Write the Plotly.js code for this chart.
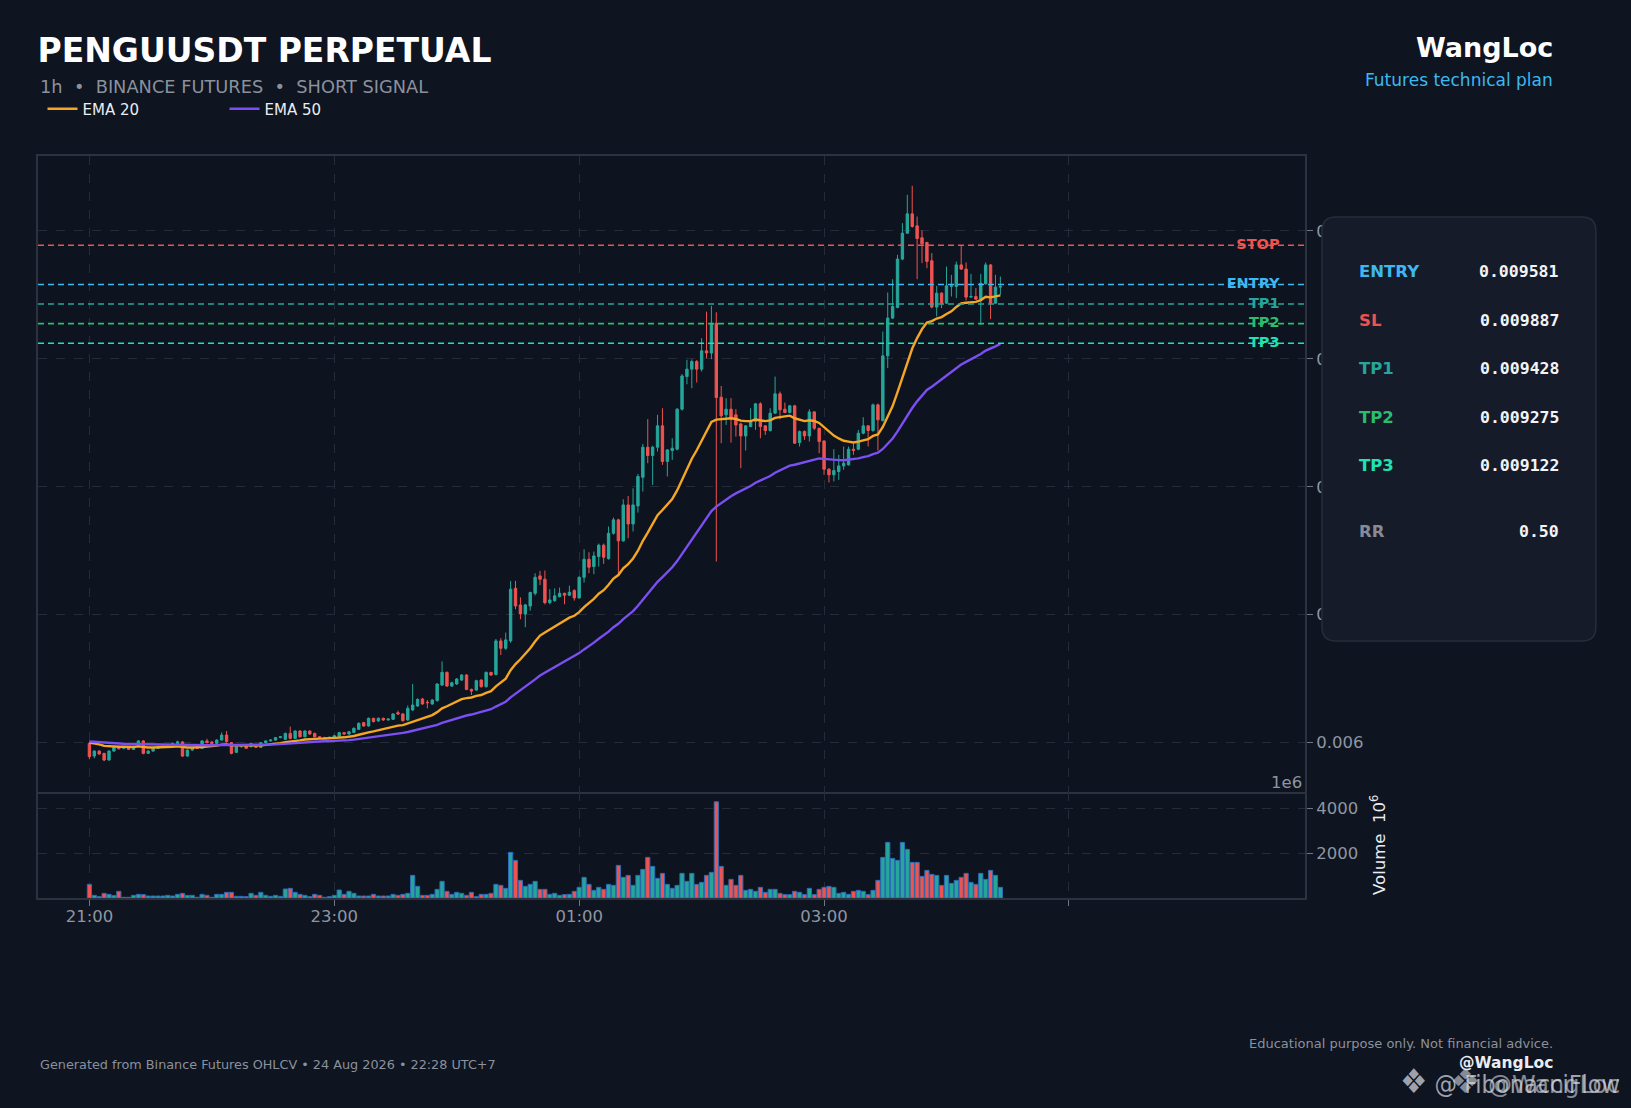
<!DOCTYPE html>
<html>
<head>
<meta charset="utf-8">
<script src="https://cdn.plot.ly/plotly-3.0.1.min.js"></script>
<style>
html,body{margin:0;padding:0;background:#0e1420;}
#chart{width:1631px;height:1108px;}
</style>
</head>
<body>
<div id="chart"></div>
<script>
// ---------------- DATA ----------------
const timeTickIndex = [0, 50, 100, 150, 200];
const timeTickLabels = ['21:00', '23:00', '01:00', '03:00', ''];
const priceTicks = [0.006, 0.007, 0.008, 0.009, 0.010];
const volumeTicks = [2000, 4000];

const openPx = [
0.005994,0.005895,0.005934,0.005916,0.005864,0.005934,0.005968,0.005955,0.005968,0.005947,
0.005973,0.006013,0.005916,0.005934,0.005955,0.005968,0.005973,0.005976,0.005994,0.006005,
0.005895,0.005942,0.005963,0.005955,0.006013,0.006005,0.005994,0.006020,0.006059,0.006000,
0.005924,0.005968,0.005973,0.005968,0.005981,0.005963,0.005999,0.006013,0.006020,0.006039,
0.006026,0.006072,0.006033,0.006091,0.006046,0.006091,0.006072,0.006046,0.006039,0.006039,
0.006039,0.006046,0.006078,0.006067,0.006080,0.006104,0.006156,0.006130,0.006190,0.006169,
0.006190,0.006177,0.006182,0.006234,0.006224,0.006177,0.006255,0.006286,0.006341,0.006315,
0.006302,0.006328,0.006450,0.006549,0.006442,0.006458,0.006489,0.006528,0.006416,0.006411,
0.006489,0.006437,0.006549,0.006532,0.006795,0.006737,0.006795,0.007206,0.007076,0.007006,
0.007068,0.007167,0.007303,0.007277,0.007094,0.007110,0.007141,0.007167,0.007152,0.007188,
0.007131,0.007292,0.007433,0.007376,0.007454,0.007543,0.007438,0.007636,0.007741,0.007577,
0.007858,0.007709,0.007850,0.008074,0.008309,0.008244,0.008309,0.008476,0.008197,0.008283,
0.008293,0.008606,0.008861,0.008919,0.008979,0.008919,0.009062,0.009045,0.009278,0.008700,
0.008562,0.008606,0.008562,0.008491,0.008397,0.008470,0.008510,0.008648,0.008476,0.008439,
0.008575,0.008726,0.008606,0.008580,0.008632,0.008345,0.008431,0.008397,0.008585,0.008457,
0.008358,0.008137,0.008093,0.008119,0.008163,0.008171,0.008293,0.008293,0.008418,0.008476,
0.008439,0.008640,0.008517,0.009023,0.009318,0.009401,0.009779,0.009982,0.010133,0.010039,
0.009946,0.009909,0.009766,0.009404,0.009513,0.009435,0.009567,0.009565,0.009734,0.009701,
0.009482,0.009487,0.009466,0.009586,0.009734,0.009435,0.009560
];
const highPx = [
0.006005,0.005940,0.005940,0.005920,0.005940,0.005970,0.005975,0.005968,0.005973,0.005975,
0.006020,0.006020,0.005942,0.005960,0.005973,0.005981,0.005985,0.006000,0.006015,0.006013,
0.005947,0.005968,0.005968,0.006020,0.006030,0.006010,0.006026,0.006080,0.006091,0.006005,
0.005973,0.005986,0.005978,0.005999,0.005986,0.006004,0.006018,0.006026,0.006044,0.006052,
0.006078,0.006125,0.006096,0.006098,0.006096,0.006094,0.006078,0.006050,0.006045,0.006048,
0.006062,0.006085,0.006082,0.006092,0.006118,0.006158,0.006162,0.006196,0.006194,0.006197,
0.006195,0.006190,0.006230,0.006250,0.006232,0.006290,0.006458,0.006345,0.006350,0.006333,
0.006340,0.006465,0.006635,0.006556,0.006475,0.006505,0.006535,0.006535,0.006422,0.006492,
0.006495,0.006556,0.006553,0.006810,0.006816,0.006860,0.007264,0.007264,0.007136,0.007085,
0.007180,0.007324,0.007342,0.007345,0.007199,0.007206,0.007212,0.007172,0.007227,0.007199,
0.007300,0.007511,0.007488,0.007493,0.007556,0.007556,0.007689,0.007759,0.007750,0.007902,
0.007928,0.007988,0.008100,0.008335,0.008528,0.008320,0.008562,0.008614,0.008295,0.008379,
0.008614,0.008880,0.008992,0.008995,0.008990,0.009161,0.009369,0.009414,0.009364,0.008788,
0.008692,0.008692,0.008606,0.008500,0.008480,0.008614,0.008655,0.008660,0.008480,0.008614,
0.008861,0.008744,0.008658,0.008640,0.008640,0.008440,0.008440,0.008606,0.008590,0.008460,
0.008362,0.008145,0.008293,0.008249,0.008314,0.008314,0.008340,0.008444,0.008543,0.008480,
0.008650,0.008650,0.009213,0.009518,0.009622,0.009813,0.010060,0.010282,0.010352,0.010112,
0.010003,0.009915,0.009826,0.009570,0.009520,0.009721,0.009656,0.009760,0.009883,0.009753,
0.009664,0.009552,0.009664,0.009753,0.009740,0.009656,0.009643
];
const lowPx = [
0.005870,0.005877,0.005905,0.005855,0.005858,0.005929,0.005945,0.005950,0.005942,0.005942,
0.005968,0.005908,0.005911,0.005929,0.005950,0.005963,0.005968,0.005970,0.005990,0.005887,
0.005890,0.005937,0.005950,0.005950,0.005994,0.005988,0.005988,0.006015,0.006000,0.005908,
0.005918,0.005962,0.005950,0.005962,0.005957,0.005958,0.005994,0.006008,0.006015,0.006034,
0.006020,0.006026,0.006028,0.006040,0.006040,0.006060,0.006040,0.006034,0.006033,0.006035,
0.006035,0.006040,0.006060,0.006062,0.006075,0.006098,0.006124,0.006125,0.006158,0.006163,
0.006170,0.006172,0.006177,0.006218,0.006165,0.006170,0.006248,0.006280,0.006296,0.006268,
0.006296,0.006320,0.006442,0.006435,0.006436,0.006452,0.006482,0.006410,0.006372,0.006405,
0.006430,0.006430,0.006522,0.006525,0.006685,0.006725,0.006780,0.007042,0.006964,0.006902,
0.007032,0.007150,0.007232,0.007081,0.007081,0.007100,0.007135,0.007081,0.007145,0.007110,
0.007125,0.007251,0.007324,0.007316,0.007376,0.007397,0.007430,0.007625,0.007303,0.007570,
0.007597,0.007650,0.007798,0.007962,0.008184,0.008014,0.008275,0.008171,0.008080,0.008210,
0.008285,0.008595,0.008801,0.008770,0.008814,0.008900,0.009005,0.008997,0.007415,0.008340,
0.008483,0.008345,0.008392,0.008145,0.008283,0.008465,0.008444,0.008379,0.008405,0.008431,
0.008570,0.008528,0.008575,0.008575,0.008335,0.008314,0.008366,0.008353,0.008444,0.008262,
0.008093,0.008033,0.008041,0.008054,0.008132,0.008165,0.008249,0.008285,0.008410,0.008314,
0.008430,0.008283,0.008510,0.008927,0.009310,0.009395,0.009770,0.009975,0.010025,0.009622,
0.009748,0.009708,0.009395,0.009331,0.009396,0.009430,0.009487,0.009474,0.009695,0.009456,
0.009477,0.009460,0.009265,0.009580,0.009310,0.009430,0.009500
];
const closePx = [
0.005890,0.005934,0.005911,0.005864,0.005934,0.005963,0.005952,0.005963,0.005947,0.005968,
0.006013,0.005916,0.005934,0.005955,0.005968,0.005973,0.005976,0.005994,0.006007,0.005895,
0.005942,0.005963,0.005955,0.006013,0.006000,0.005994,0.006020,0.006059,0.006007,0.005916,
0.005968,0.005981,0.005955,0.005994,0.005963,0.005999,0.006013,0.006020,0.006039,0.006046,
0.006072,0.006033,0.006091,0.006046,0.006091,0.006067,0.006046,0.006039,0.006039,0.006041,
0.006054,0.006078,0.006067,0.006085,0.006112,0.006151,0.006130,0.006190,0.006164,0.006190,
0.006177,0.006184,0.006224,0.006224,0.006171,0.006268,0.006294,0.006338,0.006302,0.006312,
0.006333,0.006458,0.006549,0.006442,0.006468,0.006497,0.006528,0.006416,0.006403,0.006484,
0.006437,0.006549,0.006528,0.006795,0.006737,0.006803,0.007199,0.007068,0.007006,0.007076,
0.007173,0.007292,0.007277,0.007094,0.007115,0.007147,0.007167,0.007152,0.007175,0.007131,
0.007292,0.007433,0.007371,0.007459,0.007543,0.007449,0.007636,0.007741,0.007577,0.007858,
0.007709,0.007858,0.008080,0.008309,0.008244,0.008309,0.008476,0.008197,0.008288,0.008301,
0.008606,0.008866,0.008919,0.008979,0.008919,0.009062,0.009045,0.009278,0.008697,0.008554,
0.008606,0.008536,0.008483,0.008397,0.008476,0.008510,0.008648,0.008470,0.008439,0.008575,
0.008726,0.008601,0.008580,0.008632,0.008340,0.008431,0.008397,0.008585,0.008457,0.008353,
0.008137,0.008093,0.008126,0.008163,0.008184,0.008293,0.008283,0.008418,0.008476,0.008439,
0.008640,0.008523,0.009023,0.009318,0.009409,0.009779,0.009982,0.010133,0.010034,0.009940,
0.009899,0.009761,0.009404,0.009513,0.009435,0.009570,0.009570,0.009734,0.009701,0.009482,
0.009487,0.009466,0.009591,0.009734,0.009435,0.009560,0.009565
];
// volume in millions (axis offset 1e6)
const volumeM = [
607,118,59,207,163,104,296,30,30,118,
163,148,89,89,89,89,118,89,163,207,
118,118,30,163,118,30,163,163,252,252,
74,74,59,207,118,252,118,74,118,74,
400,429,252,163,118,59,163,118,30,59,
118,355,163,296,207,89,89,89,163,89,
89,89,163,118,163,207,1006,518,118,118,
163,385,740,296,163,252,207,118,252,59,
163,163,207,607,562,429,2028,1672,784,518,
607,740,385,385,163,207,118,148,163,296,
474,918,607,340,474,385,607,562,1450,918,
1006,562,1006,1273,1806,1406,873,1095,607,429,
562,1095,740,1095,607,696,1006,1140,4277,1406,
562,829,562,1006,340,385,296,474,252,385,
385,207,148,148,296,252,148,429,148,385,
474,518,474,207,252,163,296,340,296,148,
340,784,1806,2472,1761,1672,2472,2161,1584,1584,
962,1228,1051,1006,562,1006,651,784,918,1095,
696,607,1095,829,1228,1006,474
];
// EMA values just before the first visible candle
const emaSeed20 = 0.006012;
const emaSeed50 = 0.006014;

const levelLabels = ['STOP', 'ENTRY', 'TP1', 'TP2', 'TP3'];
const levelValues = [0.009887, 0.009581, 0.009428, 0.009275, 0.009122];

const panelLabels = ['ENTRY', 'SL', 'TP1', 'TP2', 'TP3'];
const panelValues = [0.009581, 0.009887, 0.009428, 0.009275, 0.009122];
const riskReward = 0.50;

const headerTitle = 'PENGUUSDT PERPETUAL';
const headerSub = '1h\u00a0\u00a0•\u00a0\u00a0BINANCE FUTURES\u00a0\u00a0•\u00a0\u00a0SHORT SIGNAL';
const brandName = 'WangLoc';
const brandSub = 'Futures technical plan';
const footerLeft = 'Generated from Binance Futures OHLCV • 24 Aug 2026 • 22:28 UTC+7';
const footerRight = 'Educational purpose only. Not financial advice.';
const footerHandle = '@WangLoc';
const watermarkA = '@ FibonacciFlow';
const watermarkB = '@WangLoc';

// ---------------- STYLE ----------------
const BG = '#0e1420';
const PLOTBG = '#0d131f';
const GRID = '#252b38';
const FRAME = '#2c3240';
const TICKC = '#6f7682';
const TICKTXT = '#8f96a2';
const UP = '#26a69a';
const DOWN = '#ef5350';
const EMA20C = '#f5a623';
const EMA50C = '#7b4ff2';
const levelColors = ['#ef5350', '#3db8f0', '#26a69a', '#2bbd6e', '#1de3b5'];
const panelColors = ['#3db8f0', '#ef5350', '#26a69a', '#2bbd6e', '#1de3b5'];
const COND = '"DejaVu Sans Condensed", "DejaVu Sans", sans-serif';
const SANS = '"DejaVu Sans", sans-serif';
const MONO = '"DejaVu Sans Mono", monospace';

// plot-area pixel frame
const PL = 37.5, PR = 1305, PT = 156, PB = 898, PSPLIT = 792;
const fx = p => (p - PL) / (PR - PL);
const fy = p => (PB - p) / (PB - PT);

// ---------------- DERIVED ----------------
const idx = closePx.map((_, i) => i);
function ema(values, period, seed) {
  const a = 2 / (period + 1);
  let prev = seed;
  return values.map(v => (prev = a * v + (1 - a) * prev));
}
const ema20 = ema(closePx, 20, emaSeed20);
const ema50 = ema(closePx, 50, emaSeed50);
const volColors = closePx.map((c, i) => (c >= openPx[i] ? UP : DOWN));

const traces = [
  {
    type: 'candlestick', x: idx, open: openPx, high: highPx, low: lowPx, close: closePx,
    xaxis: 'x', yaxis: 'y', whiskerwidth: 0, showlegend: false, hoverinfo: 'skip',
    increasing: {line: {color: UP, width: 1}, fillcolor: UP},
    decreasing: {line: {color: DOWN, width: 1}, fillcolor: DOWN}
  },
  {type: 'scatter', mode: 'lines', x: idx, y: ema20, name: 'EMA 20', xaxis: 'x', yaxis: 'y',
   line: {color: EMA20C, width: 2.4}, hoverinfo: 'skip'},
  {type: 'scatter', mode: 'lines', x: idx, y: ema50, name: 'EMA 50', xaxis: 'x', yaxis: 'y',
   line: {color: EMA50C, width: 2.4}, hoverinfo: 'skip'},
  {type: 'scatter', mode: 'text', x: levelLabels.map(() => 243), y: levelValues, text: levelLabels,
   textposition: 'middle left', cliponaxis: false, showlegend: false, hoverinfo: 'skip',
   textfont: {family: SANS, size: 14.5, color: levelColors, weight: 'bold'}, xaxis: 'x', yaxis: 'y'},
  {type: 'bar', x: idx, y: volumeM, xaxis: 'x2', yaxis: 'y2', width: 0.86, showlegend: false,
   hoverinfo: 'skip', marker: {color: volColors, line: {color: '#2b6cb8', width: 1}}}
];

const gridCommon = {showgrid: true, gridcolor: GRID, griddash: 'dash', gridwidth: 1, zeroline: false,
  showline: true, mirror: true, linecolor: FRAME, linewidth: 2, fixedrange: true};
const tickFont = {family: SANS, size: 16.5, color: TICKTXT};

const shapes = levelValues.map((v, i) => ({
  type: 'line', xref: 'paper', x0: 0, x1: 1, yref: 'y', y0: v, y1: v, layer: 'above',
  line: {color: levelColors[i], width: 1.6, dash: '6px,4px'}
}));
// info panel (rounded rectangle)
(function () {
  const x0 = fx(1322), x1 = fx(1596), yT = fy(217), yB = fy(641);
  const rx = 14 / (PR - PL), ry = 14 / (PB - PT);
  shapes.push({
    type: 'path', xref: 'paper', yref: 'paper', layer: 'above',
    path: `M ${x0 + rx},${yT} L ${x1 - rx},${yT} Q ${x1},${yT} ${x1},${yT - ry} L ${x1},${yB + ry} Q ${x1},${yB} ${x1 - rx},${yB} L ${x0 + rx},${yB} Q ${x0},${yB} ${x0},${yB + ry} L ${x0},${yT - ry} Q ${x0},${yT} ${x0 + rx},${yT} Z`,
    fillcolor: '#161b29', line: {color: '#272d3b', width: 1.5}
  });
})();

function ann(text, xPx, yPx, xanchor, font, extra) {
  return Object.assign({text, x: fx(xPx), y: fy(yPx), xref: 'paper', yref: 'paper',
    xanchor, yanchor: 'middle', showarrow: false, font}, extra || {});
}
const LOGO = '<span style="font-size:34px">❖</span>\u00a0';
const annotations = [
  ann(headerSub, 37.5, 86, 'left', {family: SANS, size: 17.8, color: '#8b919c'}),
  ann(brandName, 1555, 47, 'right', {family: SANS, size: 27, color: '#ffffff', weight: 'bold'}),
  ann(brandSub, 1555, 80, 'right', {family: SANS, size: 17, color: '#3db8f0'}),
  ann(footerLeft, 37.5, 1064, 'left', {family: SANS, size: 12.8, color: '#8b919c'}),
  ann(footerRight, 1555, 1043, 'right', {family: SANS, size: 13, color: '#8b919c'}),
  ann(footerHandle, 1555, 1063, 'right', {family: SANS, size: 15.5, color: '#e9ecf1', weight: 'bold'}),
  ann(LOGO + watermarkA, 1622, 1081, 'right', {family: COND, size: 25, color: 'rgba(215,219,226,0.72)'}),
  ann(LOGO + watermarkB, 1622, 1081, 'right', {family: SANS, size: 24, color: 'rgba(215,219,226,0.6)'}),
  ann('1e6', 1304, 782, 'right', {family: SANS, size: 16.5, color: TICKTXT}),
  ann('Volume\u00a0\u00a010<sup>6</sup>', 1378, 845, 'center', {family: SANS, size: 16.5, color: '#e9ecf1'}, {textangle: -90})
];
const rowY = [271.7, 320, 368.5, 417, 466];
panelLabels.forEach((lab, i) => {
  annotations.push(ann(lab, 1357, rowY[i], 'left', {family: SANS, size: 16.5, color: panelColors[i], weight: 'bold'}));
  annotations.push(ann(panelValues[i].toFixed(6), 1561, rowY[i], 'right', {family: MONO, size: 16.5, color: '#f2f4f7', weight: 'bold'}));
});
annotations.push(ann('RR', 1357, 531, 'left', {family: SANS, size: 16.5, color: '#868b96', weight: 'bold'}));
annotations.push(ann(riskReward.toFixed(2), 1561, 531, 'right', {family: MONO, size: 16.5, color: '#f2f4f7', weight: 'bold'}));

const xRange = [-10.5, 248.2];
const layout = {
  width: 1631, height: 1108, autosize: false,
  paper_bgcolor: BG, plot_bgcolor: PLOTBG,
  margin: {l: PL, r: 1631 - PR, t: PT, b: 1108 - PB, pad: 0},
  title: {text: headerTitle, xref: 'container', yref: 'container', x: 37.5 / 1631, xanchor: 'left',
    y: 1 - 50 / 1108, yanchor: 'middle', font: {family: SANS, size: 33, color: '#ffffff', weight: 'bold'}},
  showlegend: true,
  legend: {orientation: 'h', x: fx(42), xanchor: 'left', y: fy(109), yanchor: 'middle',
    bgcolor: 'rgba(0,0,0,0)', font: {family: SANS, size: 15, color: '#e9ecf1'},
    entrywidth: 137, entrywidthmode: 'pixels', itemwidth: 30},
  xaxis: Object.assign({}, gridCommon, {domain: [0, 1], anchor: 'y', range: xRange, tickvals: timeTickIndex,
    showticklabels: false, ticks: '', rangeslider: {visible: false}}),
  xaxis2: Object.assign({}, gridCommon, {domain: [0, 1], anchor: 'y2', range: xRange, tickvals: timeTickIndex,
    mirror: false, ticktext: timeTickLabels, ticks: 'outside', ticklen: 6, tickwidth: 1, tickcolor: TICKC,
    tickfont: tickFont, ticklabelstandoff: -4}),
  yaxis: Object.assign({}, gridCommon, {domain: [(PB - PSPLIT) / (PB - PT), 1], anchor: 'x', side: 'right',
    range: [0.005614, 0.010585], tickvals: priceTicks, tickformat: '.3f', ticks: 'outside', ticklen: 6,
    tickwidth: 1, tickcolor: TICKC, tickfont: tickFont}),
  yaxis2: Object.assign({}, gridCommon, {domain: [0, (PB - PSPLIT) / (PB - PT)], anchor: 'x2', side: 'right',
    range: [0, 4711], tickvals: volumeTicks, ticks: 'outside', ticklen: 6, tickwidth: 1,
    tickcolor: TICKC, tickfont: tickFont}),
  shapes, annotations,
  bargap: 0
};

Plotly.newPlot('chart', traces, layout, {staticPlot: true, displayModeBar: false});
</script>
</body>
</html>
